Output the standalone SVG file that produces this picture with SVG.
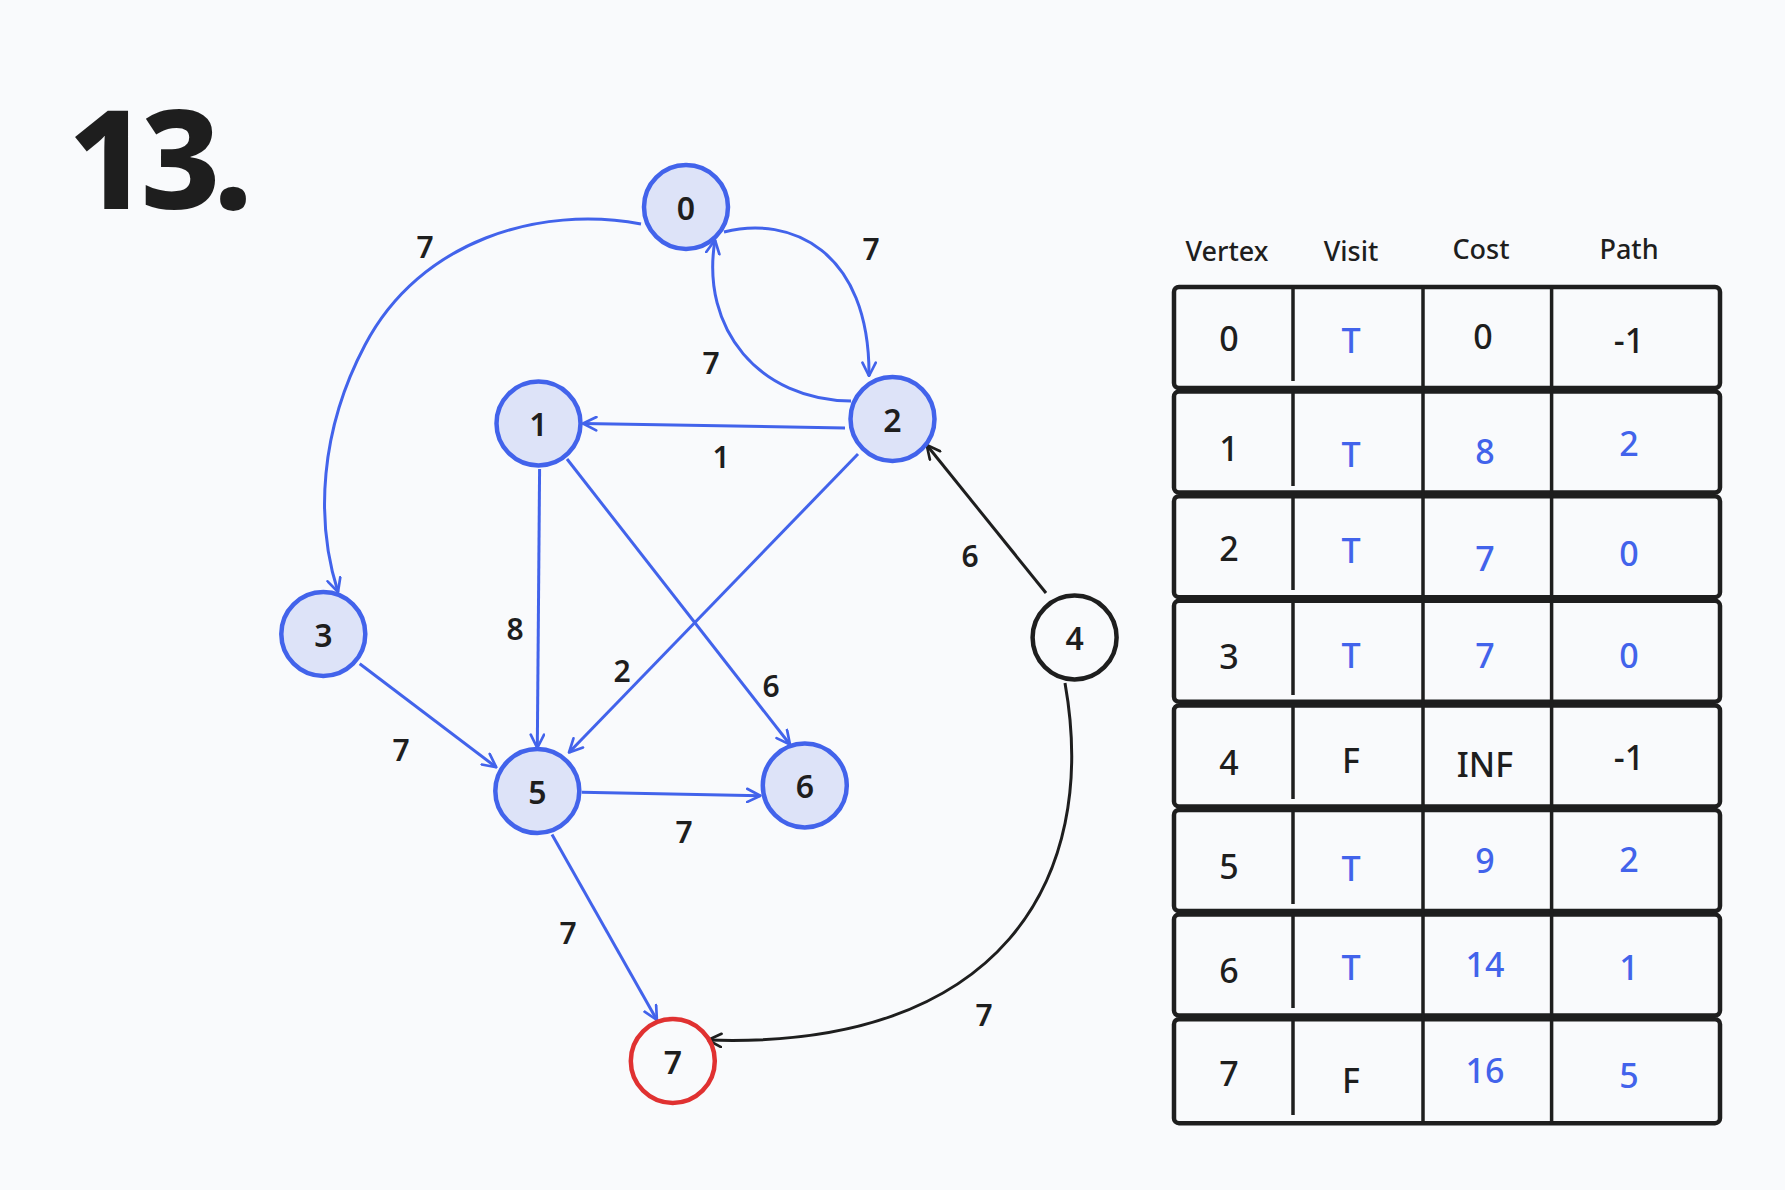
<svg xmlns="http://www.w3.org/2000/svg" width="1785" height="1190" viewBox="0 0 1785 1190">
<defs>
<style>
text{font-family:"Noto Sans","Liberation Sans",sans-serif;fill:#1e1e1e;text-anchor:middle;dominant-baseline:central}
.nodeb{fill:#dde3f8;stroke:#4263eb;stroke-width:4.5}
.nodek{fill:none;stroke:#1e1e1e;stroke-width:4.5}
.noder{fill:none;stroke:#e03131;stroke-width:4.5}
.nl{font-size:32px;font-weight:600}
.el{font-size:30px;font-weight:600}
.eb{fill:none;stroke:#4263eb;stroke-width:3;marker-end:url(#ab)}
.ek{fill:none;stroke:#1e1e1e;stroke-width:3;marker-end:url(#ak)}
.row{fill:none;stroke:#1e1e1e;stroke-width:4.5}
.col{stroke:#1e1e1e;stroke-width:3.5}
.hd{font-size:27px;font-weight:500}
.cell{font-size:34px;font-weight:500}
.blue{fill:#4263eb}
</style>
<marker id="ab" viewBox="0 0 12 12" refX="11" refY="6" markerWidth="16" markerHeight="16" markerUnits="userSpaceOnUse" orient="auto">
<path d="M1,1 L11,6 L1,11" fill="none" stroke="#4263eb" stroke-width="2" stroke-linecap="round" stroke-linejoin="round"/>
</marker>
<marker id="ak" viewBox="0 0 12 12" refX="11" refY="6" markerWidth="16" markerHeight="16" markerUnits="userSpaceOnUse" orient="auto">
<path d="M1,1 L11,6 L1,11" fill="none" stroke="#1e1e1e" stroke-width="2" stroke-linecap="round" stroke-linejoin="round"/>
</marker>
</defs>
<rect width="1785" height="1190" fill="#f9fafc"/>
<text x="68" y="155" style="font-size:138px;font-weight:800;text-anchor:start;letter-spacing:-7px">13.</text>

<g id="connectors">
<path class="eb" d="M641,224 C540,205 420,240 365,345 C320,430 315,520 338,592"/>
<path class="eb" d="M724,232 C790,215 870,250 869,376"/>
<path class="eb" d="M851,401 C760,400 700,330 715,240"/>
<path class="eb" d="M845,428 L583,423.5"/>
<path class="eb" d="M539.6,469 L537.3,748"/>
<path class="eb" d="M567,459 L790,744.5"/>
<path class="eb" d="M858,454 L569,752.5"/>
<path class="eb" d="M359.7,663.7 L496.3,767.3"/>
<path class="eb" d="M581.7,792.3 L760.4,795.7"/>
<path class="eb" d="M552,834.4 L656.9,1020"/>
<path class="ek" d="M1046,593 L926.7,445"/>
<path class="ek" d="M1065,683 C1100,880 1000,1050 708,1040"/>
<text class="el" x="425" y="246">7</text>
<text class="el" x="871" y="248">7</text>
<text class="el" x="711" y="362">7</text>
<text class="el" x="721" y="456">1</text>
<text class="el" x="515" y="628">8</text>
<text class="el" x="771" y="685">6</text>
<text class="el" x="622" y="670">2</text>
<text class="el" x="401" y="749">7</text>
<text class="el" x="684" y="831">7</text>
<text class="el" x="568" y="932">7</text>
<text class="el" x="970" y="555">6</text>
<text class="el" x="984" y="1014">7</text>
</g>

<g id="node0"><circle class="nodeb" cx="686" cy="207" r="42"/><text class="nl" x="686" y="207">0</text></g>
<g id="node1"><circle class="nodeb" cx="538.5" cy="423.5" r="42"/><text class="nl" x="538.5" y="423.5">1</text></g>
<g id="node2"><circle class="nodeb" cx="892.5" cy="419" r="42"/><text class="nl" x="892.5" y="419">2</text></g>
<g id="node3"><circle class="nodeb" cx="323.3" cy="634" r="42"/><text class="nl" x="323.3" y="634">3</text></g>
<g id="node4"><circle class="nodek" cx="1074.6" cy="637.5" r="42"/><text class="nl" x="1074.6" y="637.5">4</text></g>
<g id="node5"><circle class="nodeb" cx="537.3" cy="791" r="42"/><text class="nl" x="537.3" y="791">5</text></g>
<g id="node6"><circle class="nodeb" cx="804.8" cy="785.5" r="42"/><text class="nl" x="804.8" y="785.5">6</text></g>
<g id="node7"><circle class="noder" cx="672.8" cy="1061" r="42"/><text class="nl" x="672.8" y="1061">7</text></g>

<g id="table">
<text class="hd" x="1227" y="250">Vertex</text>
<text class="hd" x="1351" y="250">Visit</text>
<text class="hd" x="1481" y="248">Cost</text>
<text class="hd" x="1629" y="248">Path</text>
<rect class="row" x="1174" y="287" width="546" height="101" rx="5"/>
<rect class="row" x="1174" y="391.6" width="546" height="101" rx="5"/>
<rect class="row" x="1174" y="496.2" width="546" height="101" rx="5"/>
<rect class="row" x="1174" y="600.8" width="546" height="101" rx="5"/>
<rect class="row" x="1174" y="705.4" width="546" height="101" rx="5"/>
<rect class="row" x="1174" y="810" width="546" height="101" rx="5"/>
<rect class="row" x="1174" y="914.6" width="546" height="101" rx="5"/>
<rect class="row" x="1174" y="1019.2" width="546" height="104" rx="5"/>
<g class="col">
<line x1="1293" y1="289" x2="1293" y2="381"/>
<line x1="1293" y1="393" x2="1293" y2="486"/>
<line x1="1293" y1="498" x2="1293" y2="590"/>
<line x1="1293" y1="603" x2="1293" y2="695"/>
<line x1="1293" y1="707" x2="1293" y2="799"/>
<line x1="1293" y1="812" x2="1293" y2="904"/>
<line x1="1293" y1="916" x2="1293" y2="1008"/>
<line x1="1293" y1="1021" x2="1293" y2="1115"/>
<line x1="1423" y1="287" x2="1423" y2="1123"/>
<line x1="1551.6" y1="287" x2="1551.6" y2="1125"/>
</g>
<g>
<text class="cell" x="1229" y="338">0</text><text class="cell blue" x="1351" y="340">T</text><text class="cell" x="1483" y="336">0</text><text class="cell" x="1629" y="340">-1</text>
<text class="cell" x="1229" y="448">1</text><text class="cell blue" x="1351" y="454">T</text><text class="cell blue" x="1485" y="451">8</text><text class="cell blue" x="1629" y="443">2</text>
<text class="cell" x="1229" y="548">2</text><text class="cell blue" x="1351" y="550">T</text><text class="cell blue" x="1485" y="558">7</text><text class="cell blue" x="1629" y="553">0</text>
<text class="cell" x="1229" y="656">3</text><text class="cell blue" x="1351" y="655">T</text><text class="cell blue" x="1485" y="655">7</text><text class="cell blue" x="1629" y="655">0</text>
<text class="cell" x="1229" y="762">4</text><text class="cell" x="1351" y="760">F</text><text class="cell" x="1485" y="764">INF</text><text class="cell" x="1629" y="757">-1</text>
<text class="cell" x="1229" y="866">5</text><text class="cell blue" x="1351" y="868">T</text><text class="cell blue" x="1485" y="860">9</text><text class="cell blue" x="1629" y="859">2</text>
<text class="cell" x="1229" y="970">6</text><text class="cell blue" x="1351" y="967">T</text><text class="cell blue" x="1485" y="964">14</text><text class="cell blue" x="1629" y="967">1</text>
<text class="cell" x="1229" y="1073">7</text><text class="cell" x="1351" y="1080">F</text><text class="cell blue" x="1485" y="1070">16</text><text class="cell blue" x="1629" y="1075">5</text>
</g>
</g>
</svg>
